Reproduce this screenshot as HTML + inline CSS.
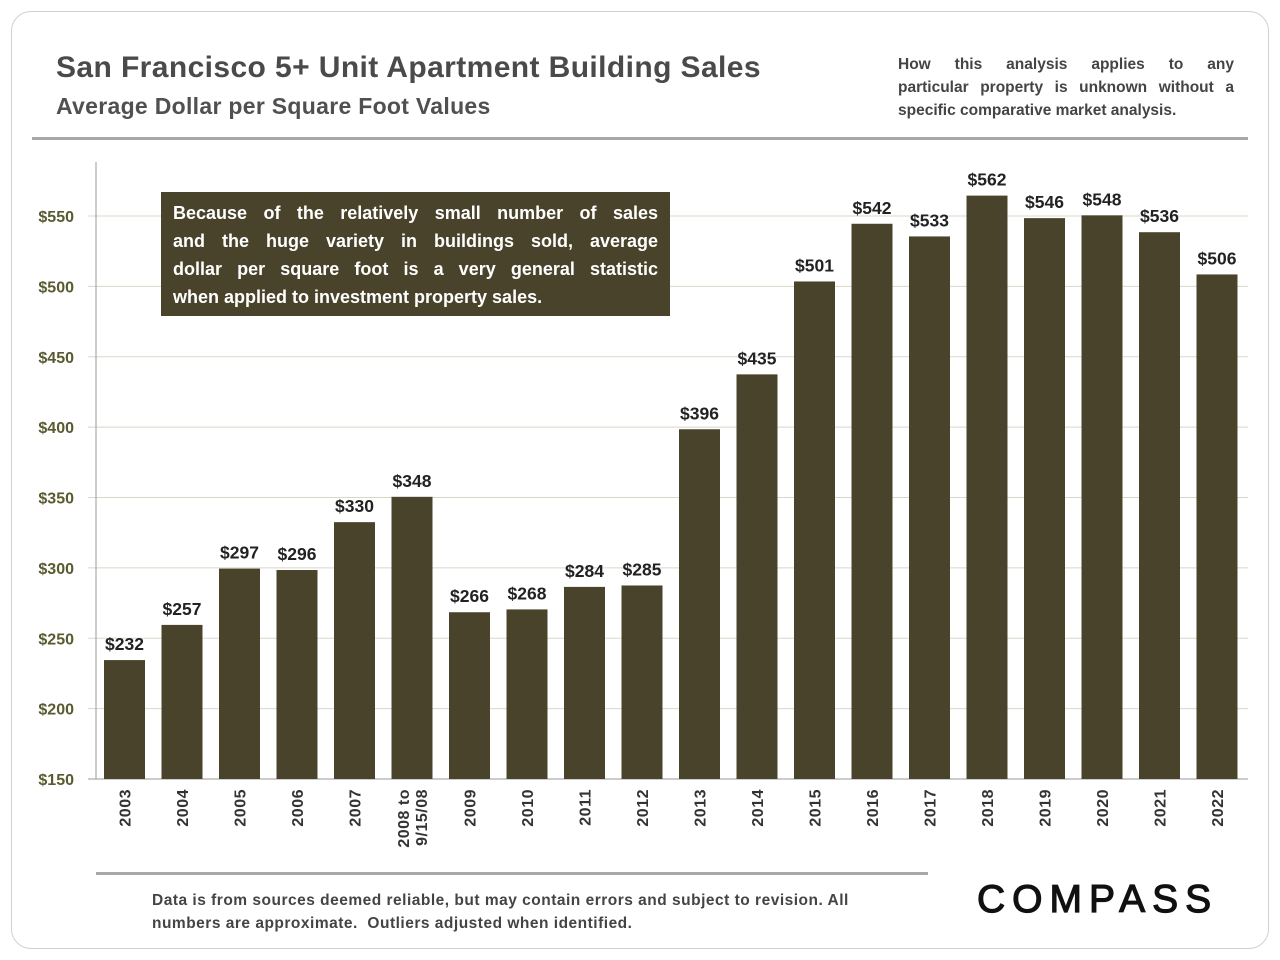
<!DOCTYPE html>
<html><head><meta charset="utf-8"><style>
body{margin:0;width:1280px;height:960px;background:#fff;font-family:"Liberation Sans",sans-serif;position:relative;overflow:hidden}
.card{position:absolute;left:11px;top:11px;width:1256px;height:936px;border:1.5px solid #d0d0d0;border-radius:20px}
.t{position:absolute;color:#4a4a4a;font-weight:bold}
.jl{display:block;text-align:justify;text-align-last:justify;white-space:nowrap}
.ll{display:block;white-space:nowrap}
</style></head><body>
<div class="card"></div>
<div class="t" style="left:56px;top:51px;font-size:30px;letter-spacing:0.4px">San Francisco 5+ Unit Apartment Building Sales</div>
<div class="t" style="left:56px;top:93px;font-size:23px;color:#505050;letter-spacing:0.3px">Average Dollar per Square Foot Values</div>
<div class="t" style="left:898px;top:53px;width:336px;font-size:15.5px;line-height:23px;color:#444"><span class="jl">How this analysis applies to any</span><span class="jl">particular property is unknown without a</span><span class="ll">specific comparative market analysis.</span></div>
<div style="position:absolute;left:32px;top:137px;width:1216px;height:3px;background:#a8a8a8"></div>
<svg id="chart" width="1280" height="960" style="position:absolute;left:0;top:0"></svg>
<div style="position:absolute;left:161px;top:192px;width:485px;height:124px;background:#4a432b;color:#fff;font-weight:bold;font-size:18px;line-height:28px;padding:7px 12px 0;box-sizing:border-box;width:509px"><span class="jl">Because of the relatively small number of sales</span><span class="jl">and the huge variety in buildings sold, average</span><span class="jl">dollar per square foot is a very general statistic</span><span class="ll">when applied to investment property sales.</span></div>
<div style="position:absolute;left:96px;top:872px;width:832px;height:3px;background:#a8a8a8"></div>
<div class="t" style="left:152px;top:889px;font-size:15.5px;line-height:23px;color:#444;letter-spacing:0.5px">Data is from sources deemed reliable, but may contain errors and subject to revision. All<br>numbers are approximate.&nbsp; Outliers adjusted when identified.</div>
<div style="position:absolute;left:977px;top:878px;font-size:39px;letter-spacing:7px;color:#111;-webkit-text-stroke:1.2px #111">COMPASS</div>
<script>
const categories=["2003","2004","2005","2006","2007","2008 to|9/15/08","2009","2010","2011","2012","2013","2014","2015","2016","2017","2018","2019","2020","2021","2022"];
const values=[232,257,297,296,330,348,266,268,284,285,396,435,501,542,533,562,546,548,536,506];
const ticks=[150,200,250,300,350,400,450,500,550];
const svg=document.getElementById('chart');const NS='http://www.w3.org/2000/svg';
function y(v){return 779-(v-150)*(563/400);}
function x(i){return 104+i*57.5;}
function mk(t,a,p){const e=document.createElementNS(NS,t);for(const k in a)e.setAttribute(k,a[k]);(p||svg).appendChild(e);return e;}
ticks.forEach(t=>{
 const l=mk('line',{x1:88,x2:1248,y1:y(t),y2:y(t),stroke:t==150?'#999':'#d8d8c8','stroke-width':1});
 
 
 const tx=mk('text',{x:74,y:y(t)+6,'text-anchor':'end','font-size':16,'font-weight':'bold',fill:'#5a5a30'});tx.textContent='$'+t;
 
 
});
const ax=mk('line',{x1:96,x2:96,y1:162,y2:779,stroke:'#999','stroke-width':1});


values.forEach((v,i)=>{
 const top=y(v)-3.5;
 const r=mk('rect',{x:x(i),y:top,width:41,height:779-top,fill:'#4a432b'});
 
 
 const lb=mk('text',{x:x(i)+20.5,y:top-10,'text-anchor':'middle','font-size':17.5,'font-weight':'bold',fill:'#222'});lb.textContent='$'+v;
 
 
 const parts=categories[i].split('|');
 const g=mk('text',{transform:`translate(${x(i)+20.5},789) rotate(-90)`,'text-anchor':'end','font-size':16,'font-weight':'bold',fill:'#333','letter-spacing':0.5});
 
 
 parts.forEach((p,j)=>{const ts=mk('tspan',{x:0,dy:j==0?(parts.length>1?-3:6):18},g);ts.textContent=p;});
});
</script>
</body></html>
